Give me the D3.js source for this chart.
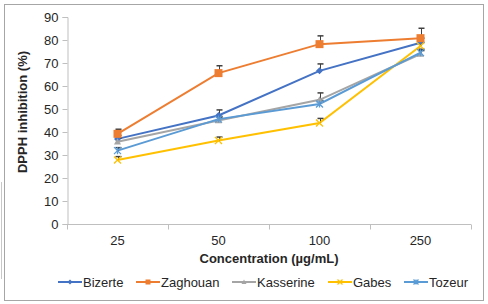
<!DOCTYPE html>
<html>
<head>
<meta charset="utf-8">
<script src="https://cdn.jsdelivr.net/npm/d3@7"></script>
<style>
  body { margin: 0; background: #fff; }
  svg text { font-family: "Liberation Sans", Arial, sans-serif; fill: #262626; }
</style>
</head>
<body>
<div id="chart"></div>
<script>
// Concentrations (category axis)
const concentrations = ["25", "50", "100", "250"];
const yTicks = [0, 10, 20, 30, 40, 50, 60, 70, 80, 90];

// DPPH inhibition (%) per site
const bizerte   = [37.0, 47.2, 66.6, 78.8];
const zaghouan  = [39.2, 65.6, 78.2, 80.8];
const kasserine = [35.8, 45.0, 54.0, 73.9];
const gabes     = [27.8, 36.3, 43.9, 77.4];
const tozeur    = [31.9, 45.6, 52.2, 74.5];

// positive error bars
const bizerteErr   = [1.5, 2.4, 3.0, 2.0];
const zaghouanErr  = [2.0, 3.2, 3.6, 4.3];
const kasserineErr = [1.5, 1.5, 3.0, 1.5];
const gabesErr     = [1.5, 1.5, 2.0, 1.5];
const tozeurErr    = [1.3, 1.2, 1.5, 1.5];

const seriesNames = ["Bizerte", "Zaghouan", "Kasserine", "Gabes", "Tozeur"];
const colors = ["#4472c4", "#ed7d31", "#a5a5a5", "#ffc000", "#5b9bd5"];
const markers = ["diamond", "square", "triangle", "x", "star"];

const series = [
  { name: seriesNames[0], values: bizerte, err: bizerteErr },
  { name: seriesNames[1], values: zaghouan, err: zaghouanErr },
  { name: seriesNames[2], values: kasserine, err: kasserineErr },
  { name: seriesNames[3], values: gabes, err: gabesErr },
  { name: seriesNames[4], values: tozeur, err: tozeurErr }
];

const W = 488, H = 304;
const plot = { left: 67, right: 471, top: 17, bottom: 224 };

const svg = d3.select("#chart").append("svg")
  .attr("width", W)
  .attr("height", H);

// outer frame
svg.append("rect")
  .attr("x", 4.5).attr("y", 4.5)
  .attr("width", 479).attr("height", 296)
  .attr("fill", "none")
  .attr("stroke", "#a6a6a6");

// stray line on the left edge
svg.append("line")
  .attr("x1", 1.5).attr("x2", 1.5)
  .attr("y1", 182).attr("y2", 279)
  .attr("stroke", "#c8c8c8");

const x = d3.scaleBand()
  .domain(concentrations)
  .range([plot.left, plot.right]);

const y = d3.scaleLinear()
  .domain([0, 90])
  .range([plot.bottom, plot.top]);

const cx = (i) => x(concentrations[i]) + x.bandwidth() / 2;

// y axis
const yAxis = svg.append("g")
  .attr("transform", `translate(${plot.left + 0.5},0)`)
  .call(d3.axisLeft(y).tickValues(yTicks).tickSize(5).tickPadding(4));
yAxis.select(".domain").attr("stroke", "#bfbfbf");
yAxis.selectAll(".tick line").attr("stroke", "#bfbfbf");
yAxis.selectAll(".tick text").style("font-size", "13px").attr("fill", "#262626");

// x axis
const xAxis = svg.append("g")
  .attr("transform", `translate(0,${plot.bottom + 0.5})`);
xAxis.append("line")
  .attr("x1", plot.left).attr("x2", plot.right)
  .attr("stroke", "#bfbfbf");
const bounds = concentrations.map((c) => x(c)).concat([plot.right]);
xAxis.selectAll(".xtick")
  .data(bounds)
  .enter().append("line")
  .attr("class", "xtick")
  .attr("x1", (d) => Math.round(d) + 0.5).attr("x2", (d) => Math.round(d) + 0.5)
  .attr("y1", 0).attr("y2", 5)
  .attr("stroke", "#bfbfbf");
xAxis.selectAll(".xlabel")
  .data(concentrations)
  .enter().append("text")
  .attr("class", "xlabel")
  .attr("x", (d, i) => cx(i))
  .attr("y", 20)
  .attr("text-anchor", "middle")
  .style("font-size", "13px")
  .text((d) => d);

// axis titles
svg.append("text")
  .attr("x", 269).attr("y", 263)
  .attr("text-anchor", "middle")
  .style("font-size", "13px")
  .style("font-weight", "bold")
  .attr("fill", "#000")
  .text("Concentration (µg/mL)");

svg.append("text")
  .attr("transform", `translate(27,112) rotate(-90)`)
  .attr("text-anchor", "middle")
  .style("font-size", "13px")
  .style("font-weight", "bold")
  .attr("fill", "#000")
  .text("DPPH inhibition (%)");

// marker drawing
function drawMarker(g, type, color, size) {
  const s = size;
  if (type === "diamond") {
    g.append("path").attr("d", `M0,${-s}L${s},0L0,${s}L${-s},0Z`).attr("fill", color);
  } else if (type === "square") {
    g.append("rect").attr("x", -s).attr("y", -s).attr("width", 2 * s).attr("height", 2 * s).attr("fill", color);
  } else if (type === "triangle") {
    g.append("path").attr("d", `M0,${-s}L${s},${s * 0.8}L${-s},${s * 0.8}Z`).attr("fill", color);
  } else if (type === "x") {
    g.append("path").attr("d", `M${-s},${-s}L${s},${s}M${-s},${s}L${s},${-s}`)
      .attr("stroke", color).attr("stroke-width", 1.3);
  } else if (type === "star") {
    g.append("path").attr("d", `M${-s},${-s}L${s},${s}M${-s},${s}L${s},${-s}M0,${-s}L0,${s}`)
      .attr("stroke", color).attr("stroke-width", 1.3);
  }
}

const line = d3.line()
  .x((d, i) => cx(i))
  .y((d) => y(d));

// lines
series.forEach((s, k) => {
  svg.append("path")
    .attr("d", line(s.values))
    .attr("fill", "none")
    .attr("stroke", colors[k])
    .attr("stroke-width", 2);
});

// error bars (plus side only)
series.forEach((s, k) => {
  const eb = svg.append("g").attr("class", "err");
  s.values.forEach((v, i) => {
    const xx = Math.round(cx(i)) + 0.5;
    eb.append("line")
      .attr("x1", xx).attr("x2", xx)
      .attr("y1", y(v)).attr("y2", y(v + s.err[i]))
      .attr("stroke", "#404040").attr("stroke-width", 1);
    eb.append("line")
      .attr("x1", xx - 3).attr("x2", xx + 3)
      .attr("y1", y(v + s.err[i])).attr("y2", y(v + s.err[i]))
      .attr("stroke", "#404040").attr("stroke-width", 1.5);
  });
});

// markers
series.forEach((s, k) => {
  s.values.forEach((v, i) => {
    const g = svg.append("g").attr("transform", `translate(${cx(i)},${y(v)})`);
    drawMarker(g, markers[k], colors[k], k === 1 ? 4 : 3.5);
  });
});

// legend
const legendX = [58, 136, 232, 328, 404];
const legend = svg.append("g").attr("transform", "translate(0,282)");
series.forEach((s, k) => {
  const g = legend.append("g").attr("transform", `translate(${legendX[k]},0)`);
  g.append("line")
    .attr("x1", 0).attr("x2", 24)
    .attr("stroke", colors[k]).attr("stroke-width", 2);
  const m = g.append("g").attr("transform", "translate(12,0)");
  drawMarker(m, markers[k], colors[k], 2.5);
  g.append("text")
    .attr("x", 25).attr("y", 5)
    .style("font-size", "13px")
    .text(s.name);
});
</script>
</body>
</html>
